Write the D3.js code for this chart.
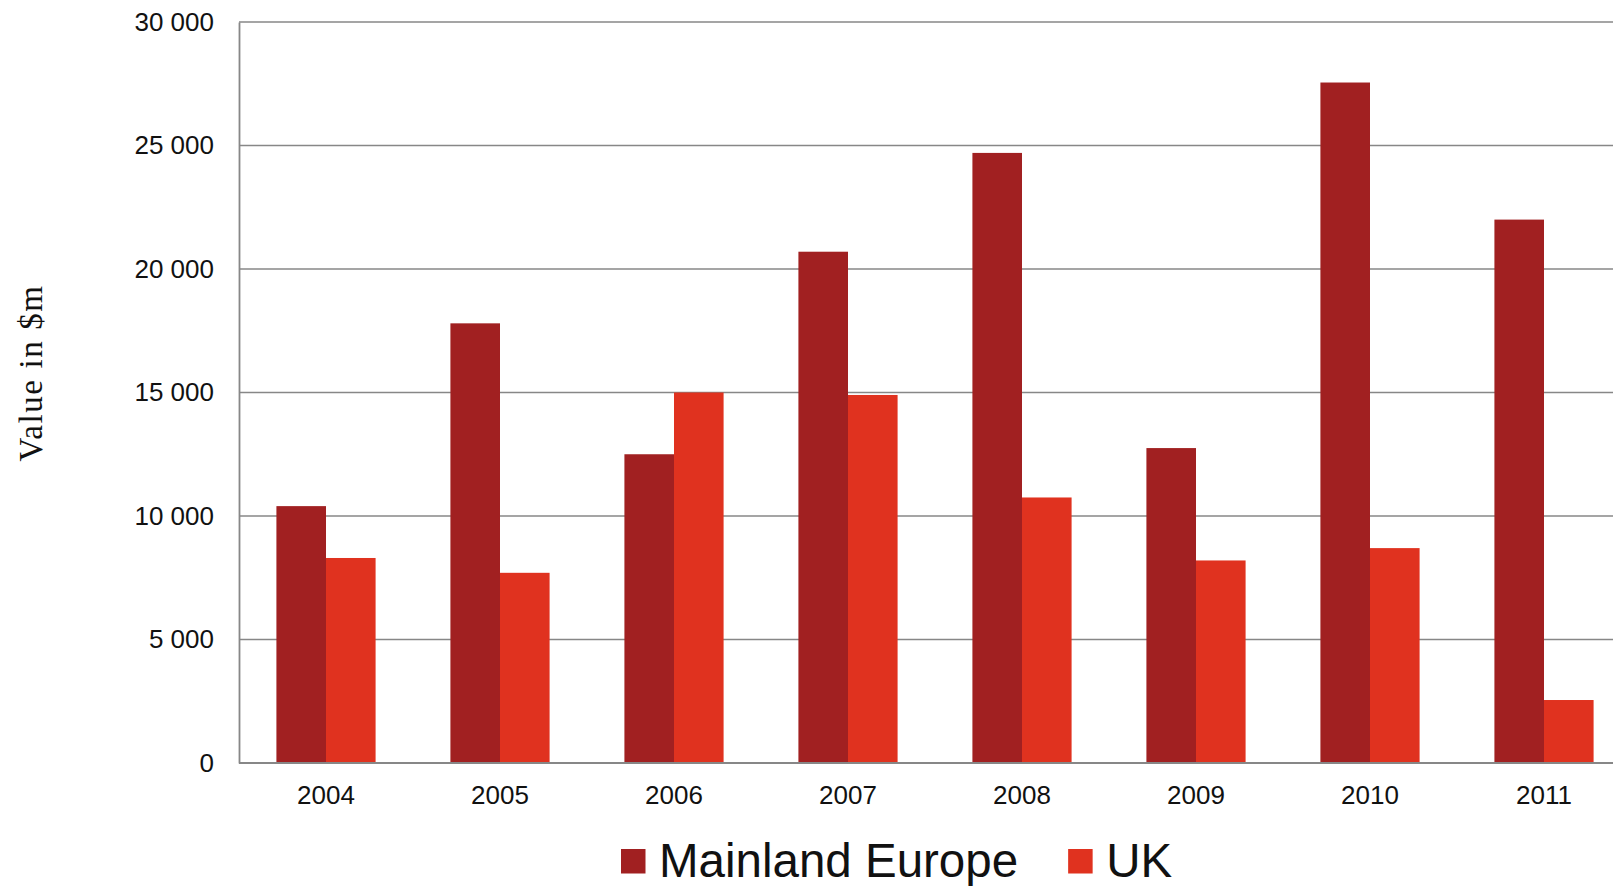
<!DOCTYPE html>
<html>
<head>
<meta charset="utf-8">
<script src="https://cdn.jsdelivr.net/npm/d3@7"></script>
<style>
  html, body { margin: 0; padding: 0; background: #fff; }
  svg { display: block; }
</style>
</head>
<body>
<svg id="chart" width="1613" height="886"></svg>
<script>
// Annual deal value by region, $m
const years = ["2004", "2005", "2006", "2007", "2008", "2009", "2010", "2011"];
const seriesNames = ["Mainland Europe", "UK"];
const mainlandEurope = [10400, 17800, 12500, 20700, 24700, 12750, 27550, 22000];
const uk = [8300, 7700, 15000, 14900, 10750, 8200, 8700, 2550];
const yTickValues = [0, 5000, 10000, 15000, 20000, 25000, 30000];
const seriesColors = ["#a12021", "#e0321f"];

const rows = years.map((yr, i) => ({ year: yr, values: [mainlandEurope[i], uk[i]] }));

const svg = d3.select("#chart");
const W = 1613, H = 886;
const plot = { left: 239, top: 22, bottom: 763, right: 1631 };

const locale = d3.formatLocale({ decimal: ".", thousands: " ", grouping: [3], currency: ["$", ""] });
const fmt = locale.format(",");

const y = d3.scaleLinear().domain([0, 30000]).range([plot.bottom, plot.top]);
const x = d3.scaleBand().domain(years).range([plot.left, plot.right])
  .paddingInner(0.43).paddingOuter(0.215);
const xs = d3.scaleBand().domain(seriesNames).range([0, x.bandwidth()]).padding(0);
const color = d3.scaleOrdinal().domain(seriesNames).range(seriesColors);

// horizontal gridlines
const grid = svg.append("g").attr("class", "grid");
grid.selectAll("line").data(yTickValues.filter(v => v > 0)).join("line")
  .attr("x1", plot.left).attr("x2", W)
  .attr("y1", d => y(d)).attr("y2", d => y(d))
  .attr("stroke", "#878787").attr("stroke-width", 1.6);

// bars
const groups = svg.append("g").selectAll("g").data(rows).join("g")
  .attr("transform", d => `translate(${x(d.year)},0)`);
groups.selectAll("rect").data(d => d.values.map((v, k) => ({ key: seriesNames[k], value: v })))
  .join("rect")
  .attr("x", d => xs(d.key))
  .attr("width", xs.bandwidth())
  .attr("y", d => y(d.value))
  .attr("height", d => y(0) - y(d.value))
  .attr("fill", d => color(d.key));

// y axis
const yAxis = d3.axisLeft(y).tickValues(yTickValues).tickFormat(fmt).tickSize(0).tickPadding(25);
const gy = svg.append("g").attr("transform", `translate(${plot.left},0)`).call(yAxis);
gy.select(".domain").attr("stroke", "#878787").attr("stroke-width", 1.8);
gy.selectAll("text").attr("font-family", "'Liberation Sans', Arial, sans-serif")
  .attr("font-size", 26).attr("fill", "#111");

// x axis
const xAxis = d3.axisBottom(x).tickSize(0).tickPadding(22.5);
const gx = svg.append("g").attr("transform", `translate(0,${plot.bottom})`).call(xAxis);
gx.select(".domain").remove();
gx.append("line").attr("x1", plot.left).attr("x2", W).attr("y1", 0).attr("y2", 0)
  .attr("stroke", "#878787").attr("stroke-width", 2);
gx.selectAll("text").attr("font-family", "'Liberation Sans', Arial, sans-serif")
  .attr("font-size", 26).attr("fill", "#111");

// y axis title
svg.append("text")
  .attr("transform", "translate(42,373) rotate(-90)")
  .attr("text-anchor", "middle")
  .attr("font-family", "'Liberation Serif', 'Times New Roman', serif")
  .attr("font-size", 33)
  .attr("letter-spacing", 1.6)
  .attr("fill", "#111")
  .text("Value in $m");

// legend
const legend = svg.append("g").attr("class", "legend");
let lx = 621;
seriesNames.forEach(name => {
  const item = legend.append("g").attr("transform", `translate(${lx},0)`);
  item.append("rect").attr("x", 0).attr("y", 849).attr("width", 24.5).attr("height", 24.5)
    .attr("fill", color(name));
  const t = item.append("text")
    .attr("x", 38).attr("y", 876.5)
    .attr("font-family", "'Liberation Sans', Arial, sans-serif")
    .attr("font-size", 47.5)
    .attr("fill", "#111")
    .text(name);
  const w = t.node().getComputedTextLength();
  lx += 38 + w + 50;
});
</script>
</body>
</html>
